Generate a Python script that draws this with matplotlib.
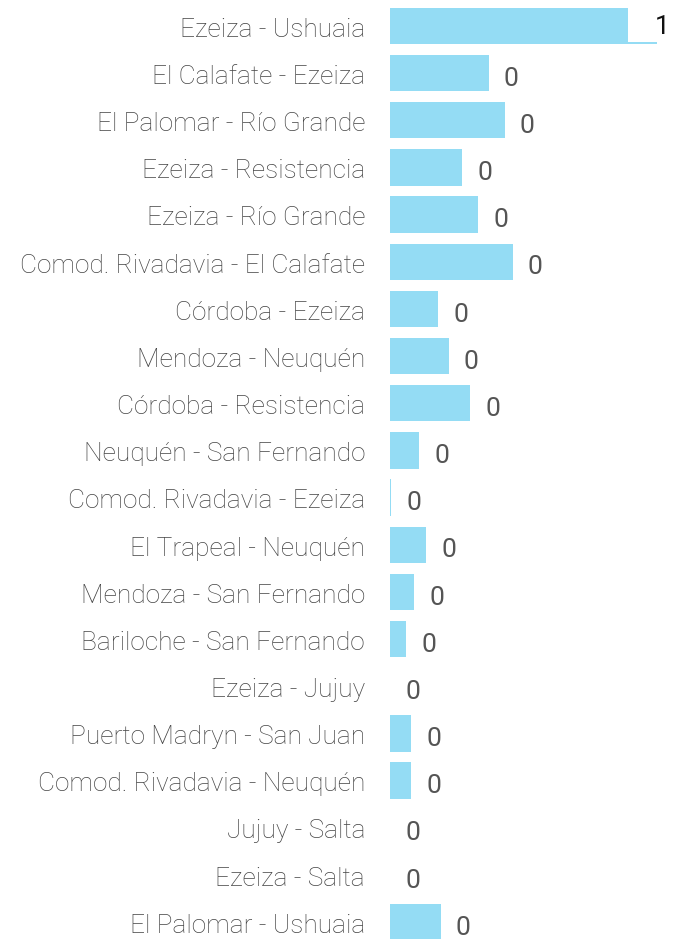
import matplotlib
matplotlib.use("Agg")
import matplotlib.pyplot as plt

routes = ["Ezeiza - Ushuaia", "El Calafate - Ezeiza", "El Palomar - Río Grande",
          "Ezeiza - Resistencia", "Ezeiza - Río Grande", "Comod. Rivadavia - El Calafate",
          "Córdoba - Ezeiza", "Mendoza - Neuquén", "Córdoba - Resistencia",
          "Neuquén - San Fernando", "Comod. Rivadavia - Ezeiza", "El Trapeal - Neuquén",
          "Mendoza - San Fernando", "Bariloche - San Fernando", "Ezeiza - Jujuy",
          "Puerto Madryn - San Juan", "Comod. Rivadavia - Neuquén", "Jujuy - Salta",
          "Ezeiza - Salta", "El Palomar - Ushuaia"]
values = [0.89, 0.37, 0.43, 0.27, 0.33, 0.46, 0.18, 0.22, 0.30, 0.11,
          0.005, 0.135, 0.09, 0.06, 0.0, 0.08, 0.08, 0.0, 0.0, 0.19]
top_target = [1.0]  # thin track under the first bar

W, H = 673, 939
fig = plt.figure(figsize=(W / 100, H / 100), dpi=100)
ax = fig.add_axes([390 / W, 0, (W - 390) / W, 1])

px_per_unit = 267.0
ax.set_xlim(0, (W - 390) / px_per_unit)
row = 47.16
ax.set_ylim((H - 26) / row, -26 / row)

bar_color = "#94dcf4"
ys = list(range(len(routes)))
ax.barh(ys, values, height=0.77, color=bar_color, edgecolor="none")
ax.barh([0.36], top_target, height=0.05, color=bar_color, edgecolor="none")

fam = ["Roboto", "DejaVu Sans"]
for y, v, name in zip(ys, values, routes):
    ax.text(-25 / px_per_unit, y + 0.08, name, ha="right", va="center", fontsize=18.9,
            family=fam, fontweight="light", color="#444444", clip_on=False)
    lbl = str(int(round(v)))
    if y == 0:
        ax.text((655 - 390) / px_per_unit, y + 0.03, lbl, ha="left", va="center",
                fontsize=19, family=fam, color="#111111")
    else:
        ax.text(v + 15 / px_per_unit, y + 0.12, lbl, ha="left", va="center", fontsize=19,
                family=fam, color="#555555")

ax.axis("off")
fig.savefig("out.png", dpi=100)
